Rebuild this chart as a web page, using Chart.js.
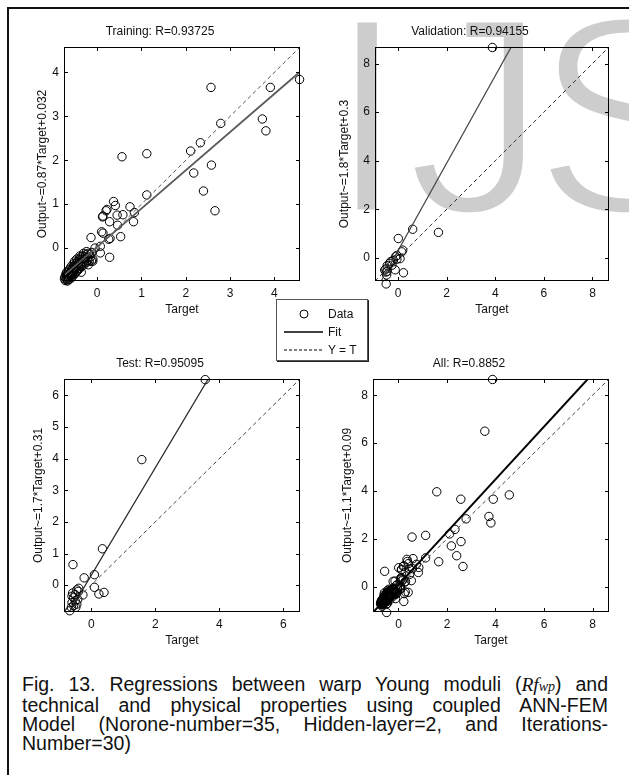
<!DOCTYPE html>
<html>
<head>
<meta charset="utf-8">
<script src="https://cdn.jsdelivr.net/npm/chart.js@4.4.0/dist/chart.umd.min.js"></script>
<style>
  body { margin: 0; width: 629px; height: 775px; background: #fff; position: relative; overflow: hidden;
         font-family: "Liberation Sans", Arial, sans-serif; color: #111; }
  .frame { position: absolute; left: 7px; top: 7px; right: -20px; bottom: -20px;
           border-left: 2px solid #111; border-top: 2px solid #111; }
  .mark { position: absolute; left: 328px; top: -25px; font-size: 282px; line-height: 282px;
          color: #cdcdcd; white-space: nowrap; -webkit-text-stroke: 7px #fff; paint-order: fill stroke; }
  .mark span { margin-left: -14px; }
  .panel { position: absolute; }
  .legend { position: absolute; left: 276px; top: 299px; width: 90px; height: 60px; background: #fff;
            border: 1px solid #555; box-shadow: 1px 1px 0 #222; font-size: 12px; }
  .legend div { position: absolute; left: 51px; }
  .legend svg { position: absolute; left: 0; top: 0; }
  .caption { position: absolute; left: 22px; top: 675px; width: 586px; font-size: 19.5px; line-height: 19px; }
  .caption div { text-align: justify; text-align-last: justify; white-space: nowrap; }
  .caption div.last { text-align-last: left; }
  .caption i { font-family: "Liberation Serif", "DejaVu Serif", serif; }
  .caption sub { font-size: 14px; vertical-align: baseline; }
</style>
</head>
<body>
<div class="mark">IJ<span>S</span></div>
<div class="frame"></div>
<div class="panel" id="p0"><canvas id="trainChart"></canvas></div>
<div class="panel" id="p1"><canvas id="valChart"></canvas></div>
<div class="panel" id="p2"><canvas id="testChart"></canvas></div>
<div class="panel" id="p3"><canvas id="allChart"></canvas></div>

<div class="legend">
  <svg width="90" height="60">
    <circle cx="27" cy="14" r="4" fill="none" stroke="#000" stroke-width="1"/>
    <line x1="7" y1="32" x2="46" y2="32" stroke="#000" stroke-width="1.5"/>
    <line x1="7" y1="50" x2="46" y2="50" stroke="#000" stroke-width="1" stroke-dasharray="3,2"/>
  </svg>
  <div style="top:7px">Data</div>
  <div style="top:25px">Fit</div>
  <div style="top:43px">Y = T</div>
</div>

<div class="caption">
  <div>Fig. 13. Regressions between warp Young moduli (<i>Rf<sub>wp</sub></i>) and</div>
  <div>technical and physical properties using coupled ANN-FEM</div>
  <div>Model (Norone-number=35, Hidden-layer=2, and Iterations-</div>
  <div class="last">Number=30)</div>
</div>

<script>
// Panel titles and regression labels
const titles = ['Training: R=0.93725', 'Validation: R=0.94155', 'Test: R=0.95095', 'All: R=0.8852'];
const yLabels = ['Output~=0.87*Target+0.032', 'Output~=1.8*Target+0.3', 'Output~=1.7*Target+0.31', 'Output~=1.1*Target+0.09'];

// Fit coefficients [slope, intercept]
const trainFit = [0.87, 0.032];
const valFit = [1.8, 0.3];
const testFit = [1.7, 0.31];
const allFit = [1.1, 0.09];

// Axis limits (same for target and output)
const trainLimits = [-0.75, 4.58];
const valLimits = [-0.95, 8.68];
const testLimits = [-0.85, 6.52];
const allLimits = [-1.05, 8.68];

// Tick values
const trainTicks = [0, 1, 2, 3, 4];
const valTicks = [0, 2, 4, 6, 8];
const testTicksX = [0, 2, 4, 6];
const testTicksY = [0, 1, 2, 3, 4, 5, 6];
const allTicks = [0, 2, 4, 6, 8];

// [target, output] pairs
const trainPoints = [
  [4.57, 3.84], [3.91, 3.66], [2.57, 3.66], [3.73, 2.94], [3.81, 2.67], [2.79, 2.84],
  [2.33, 2.40], [2.11, 2.21], [2.18, 1.71], [2.58, 1.89], [2.40, 1.30], [2.66, 0.85],
  [0.56, 2.08], [1.12, 2.15], [1.12, 1.21],
  [0.37, 1.06], [0.41, 0.97], [0.22, 0.88], [0.20, 0.85], [0.13, 0.73], [0.12, 0.71],
  [0.28, 0.60], [0.74, 0.94], [0.84, 0.81], [0.82, 0.60], [0.58, 0.76], [0.45, 0.75],
  [0.46, 0.52], [0.53, 0.26], [0.26, 0.20], [0.28, -0.21], [0.10, 0.37], [0.07, -0.11],
  [-0.14, 0.24], [0.13, 0.34], [0.07, 0.04], [-0.10, -0.30], [0.29, 0.22], [-0.05, 0.00],
  [-0.72, -0.74], [-0.70, -0.70], [-0.68, -0.72], [-0.66, -0.64], [-0.65, -0.68], [-0.63, -0.58],
  [-0.62, -0.66], [-0.60, -0.55], [-0.60, -0.62], [-0.58, -0.50], [-0.57, -0.60], [-0.55, -0.45],
  [-0.55, -0.56], [-0.53, -0.52], [-0.52, -0.40], [-0.50, -0.48], [-0.50, -0.58], [-0.48, -0.35],
  [-0.47, -0.45], [-0.45, -0.52], [-0.44, -0.30], [-0.42, -0.40], [-0.40, -0.47], [-0.40, -0.25],
  [-0.38, -0.35], [-0.36, -0.20], [-0.35, -0.42], [-0.33, -0.30], [-0.32, -0.18], [-0.30, -0.38],
  [-0.28, -0.25], [-0.26, -0.15], [-0.25, -0.33], [-0.22, -0.22], [-0.20, -0.12], [-0.18, -0.30],
  [-0.15, -0.20], [-0.12, -0.10], [-0.68, -0.60], [-0.64, -0.50], [-0.58, -0.68], [-0.70, -0.65],
  [-0.54, -0.36], [-0.46, -0.25], [-0.36, -0.55], [-0.20, -0.38], [-0.10, -0.25],
  [-0.74, -0.70], [-0.73, -0.66], [-0.71, -0.60], [-0.69, -0.55], [-0.67, -0.75], [-0.66, -0.56],
  [-0.64, -0.72], [-0.62, -0.48], [-0.61, -0.60], [-0.59, -0.42], [-0.57, -0.54], [-0.56, -0.64],
  [-0.54, -0.48], [-0.52, -0.60], [-0.51, -0.30], [-0.49, -0.42], [-0.47, -0.54], [-0.46, -0.38],
  [-0.43, -0.46], [-0.41, -0.33], [-0.39, -0.18], [-0.37, -0.40], [-0.34, -0.25], [-0.31, -0.12],
  [-0.29, -0.32], [-0.27, -0.20], [-0.24, -0.08], [-0.21, -0.28], [-0.17, -0.15], [-0.13, -0.30]
];
const valPoints = [
  [3.88, 8.66], [0.60, 1.18], [1.66, 1.05], [0.01, 0.80], [0.19, 0.32], [0.15, 0.25],
  [0.08, -0.03], [-0.05, -0.05], [-0.10, 0.05], [-0.20, -0.10], [-0.30, -0.15], [-0.35, -0.22],
  [-0.45, -0.32], [-0.50, -0.45], [-0.55, -0.50], [-0.45, -0.55], [-0.12, -0.49], [0.22, -0.61],
  [-0.49, -0.58], [-0.47, -0.70], [-0.49, -1.07], [-0.25, -0.30], [-0.05, 0.10]
];
const testPoints = [
  [3.56, 6.50], [1.58, 3.97], [0.35, 1.15], [-0.57, 0.65], [0.10, 0.33], [-0.22, 0.23],
  [0.10, -0.07], [0.24, -0.28], [0.40, -0.23], [-0.39, -0.10], [-0.26, -0.31], [-0.40, -0.20],
  [-0.45, -0.15], [-0.60, -0.35], [-0.50, -0.50], [-0.45, -0.60], [-0.55, -0.40], [-0.60, -0.55],
  [-0.50, -0.30], [-0.55, -0.65], [-0.67, -0.81], [-0.42, -0.45], [-0.58, -0.25], [-0.48, -0.70],
  [-0.62, -0.70]
];
const allPoints = [...trainPoints, ...valPoints, ...testPoints];

const FONT = '"Liberation Sans", Arial, sans-serif';

// Box and inward tick marks on all four sides
const matlabBox = {
  id: 'matlabBox',
  afterDatasetsDraw(chart) {
    const { ctx, chartArea: a, scales: { x, y } } = chart;
    ctx.save();
    ctx.strokeStyle = '#000';
    ctx.lineWidth = 1;
    ctx.strokeRect(a.left + 0.5, a.top + 0.5, a.right - a.left - 1, a.bottom - a.top - 1);
    ctx.beginPath();
    x.ticks.forEach(t => {
      const px = Math.round(x.getPixelForValue(t.value)) + 0.5;
      ctx.moveTo(px, a.bottom); ctx.lineTo(px, a.bottom - 4);
      ctx.moveTo(px, a.top); ctx.lineTo(px, a.top + 4);
    });
    y.ticks.forEach(t => {
      const py = Math.round(y.getPixelForValue(t.value)) + 0.5;
      ctx.moveTo(a.left, py); ctx.lineTo(a.left + 4, py);
      ctx.moveTo(a.right, py); ctx.lineTo(a.right - 4, py);
    });
    ctx.stroke();
    ctx.restore();
  }
};

function makePanel(box, canvasId, title, yLabel, points, fit, limits, ticksX, ticksY, style) {
  const yw = 44, titleH = 32, xh = 40;
  const panel = document.getElementById(box.id);
  panel.style.left = (box.left - yw) + 'px';
  panel.style.top = (box.top - titleH) + 'px';
  const canvas = document.getElementById(canvasId);
  canvas.width = box.w + 2 * yw;
  canvas.height = box.h + titleH + xh;

  const [lo, hi] = limits;
  return new Chart(canvas, {
    type: 'scatter',
    data: {
      datasets: [
        {
          data: [{ x: lo, y: fit[0] * lo + fit[1] }, { x: hi, y: fit[0] * hi + fit[1] }],
          showLine: true, borderColor: style.fitColor, borderWidth: style.fitWidth, pointRadius: 0
        },
        {
          data: [{ x: lo, y: lo }, { x: hi, y: hi }],
          showLine: true, borderColor: style.dashColor, borderWidth: 1, borderDash: [4, 3], pointRadius: 0
        },
        {
          data: points.map(p => ({ x: p[0], y: p[1] })),
          pointStyle: 'circle', pointRadius: 4.2, borderColor: '#000', borderWidth: 1,
          backgroundColor: 'rgba(0,0,0,0)', clip: 8
        }
      ]
    },
    options: {
      responsive: false,
      animation: false,
      layout: { padding: { left: 0, right: yw, top: 0, bottom: 0 } },
      plugins: {
        legend: { display: false },
        tooltip: { enabled: false },
        title: {
          display: true, text: title, color: '#111',
          font: { family: FONT, size: 12, weight: 'normal', lineHeight: 1.25 },
          padding: { top: 9.5, bottom: 7.5 }
        }
      },
      scales: {
        x: {
          type: 'linear', min: lo, max: hi,
          afterBuildTicks: s => { s.ticks = ticksX.map(v => ({ value: v })); },
          afterFit: s => { s.height = xh; },
          grid: { display: false, drawTicks: false },
          border: { display: false },
          ticks: { color: '#111', padding: 5, maxRotation: 0, autoSkip: false, font: { family: FONT, size: 12 } },
          title: { display: true, text: 'Target', color: '#111', font: { family: FONT, size: 12 }, padding: { top: 0, bottom: 4 } }
        },
        y: {
          type: 'linear', min: lo, max: hi,
          afterBuildTicks: s => { s.ticks = ticksY.map(v => ({ value: v })); },
          afterFit: s => { s.width = yw; },
          grid: { display: false, drawTicks: false },
          border: { display: false },
          ticks: { color: '#111', padding: 5, autoSkip: false, font: { family: FONT, size: 12 } },
          title: { display: true, text: yLabel, color: '#111', font: { family: FONT, size: 12 },
                   padding: { top: yw - box.gap - 7.2, bottom: 0 } }
        }
      }
    },
    plugins: [matlabBox]
  });
}

makePanel({ id: 'p0', left: 64, top: 47, w: 236, h: 234, gap: 21.5 }, 'trainChart', titles[0], yLabels[0],
  trainPoints, trainFit, trainLimits, trainTicks, trainTicks, { fitColor: '#5a5a5a', fitWidth: 1.8, dashColor: '#555' });
makePanel({ id: 'p1', left: 375, top: 47, w: 234, h: 234, gap: 30 }, 'valChart', titles[1], yLabels[1],
  valPoints, valFit, valLimits, valTicks, valTicks, { fitColor: '#444', fitWidth: 1.2, dashColor: '#333' });
makePanel({ id: 'p2', left: 64, top: 379, w: 236, h: 233, gap: 25 }, 'testChart', titles[2], yLabels[2],
  testPoints, testFit, testLimits, testTicksX, testTicksY, { fitColor: '#222', fitWidth: 1.2, dashColor: '#444' });
makePanel({ id: 'p3', left: 373, top: 379, w: 236, h: 233, gap: 25 }, 'allChart', titles[3], yLabels[3],
  allPoints, allFit, allLimits, allTicks, allTicks, { fitColor: '#000', fitWidth: 2, dashColor: '#444' });
</script>
</body>
</html>
